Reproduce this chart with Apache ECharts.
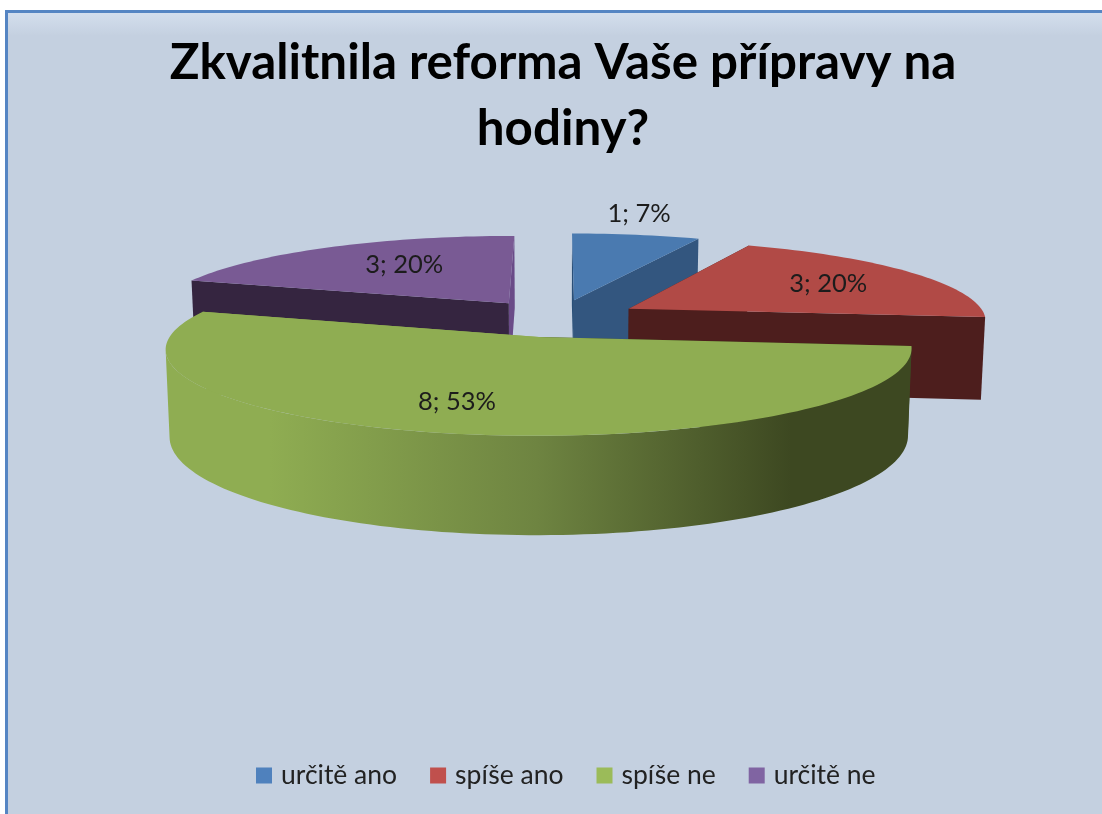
<!DOCTYPE html>
<html>
<head>
<meta charset="utf-8">
<style>html,body{margin:0;padding:0;background:#fff}#c{width:1102px;height:814px}</style>
<script src="https://cdn.jsdelivr.net/npm/echarts@6/dist/echarts.min.js"></script>
</head>
<body>
<div id="c"></div>
<script>
const titleText = 'Zkvalitnila reforma Vaše přípravy na\nhodiny?';
const categories = ['určitě ano', 'spíše ano', 'spíše ne', 'určitě ne'];
const values = [1, 3, 8, 3];

// styles
const legendColors = ['#4F81BD', '#C0504D', '#9BBB59', '#8064A2'];
const topColors = ['#4A7AB0', '#B14A46', '#8FAD52', '#795A94'];
const startFace = ['#2A4F78', '#4D1E1D', '#3D4821', '#352540'];
const endFace = ['#33567F', '#4D1E1D', '#8FAD52', '#6A4B88'];
const labelOffset = [[0.229, -1.349], [0.60, -0.335], [-0.196, 0.691], [-0.33, -0.537]];

// 3D projection parameters of the pie
const cx0 = 557, cy0 = 318, Rx = 358, Ry = 80, persp = 0.134, H = 83, explode = 0.235, bottomScale = 0.99;
const total = values.reduce((a, b) => a + b, 0);
const rad = d => d * Math.PI / 180;

function project(u, v, down) {
  const f = 1 / (1 - persp * v);
  let x = cx0 + Rx * u * f;
  let y = cy0 + Ry * v * f;
  if (down) { x = cx0 + (x - cx0) * bottomScale; y += H * f; }
  return [x, y];
}

function sliceAngles(idx) {
  let a = 0;
  for (let i = 0; i < idx; i++) a += values[i] / total * 360;
  return [a, a + values[idx] / total * 360];
}

function makeRender(idx) {
  return function (params, api) {
    const val = api.value(0);
    const [a0, a1] = sliceAngles(idx);
    const mid = rad((a0 + a1) / 2);
    const cu = explode * Math.sin(mid), cv = -explode * Math.cos(mid);
    const rim = (deg, down) => project(cu + Math.sin(rad(deg)), cv - Math.cos(rad(deg)), down);
    const apex = down => project(cu, cv, down);
    const arc = (from, to, down) => {
      const n = Math.max(2, Math.ceil(Math.abs(to - from) / 1.5));
      const pts = [];
      for (let i = 0; i <= n; i++) pts.push(rim(from + (to - from) * i / n, down));
      return pts;
    };
    const children = [];
    const poly = (pts, fill) => children.push({
      type: 'polygon', shape: { points: pts },
      style: { fill: fill, stroke: null }
    });

    // cut faces, farther one first
    const face = deg => [apex(false), rim(deg, false), rim(deg, true), apex(true)];
    const faces = [[a0, startFace[idx]], [a1, endFace[idx]]]
      .sort((p, q) => Math.cos(rad(q[0])) - Math.cos(rad(p[0])));
    faces.forEach(p => poly(face(p[0]), p[1]));

    // outer wall: the part between the rim's right-most and left-most points
    let right = 90, left = 270;
    for (let d = 60; d <= 120; d += 0.5) if (rim(d, false)[0] > rim(right, false)[0]) right = d;
    for (let d = 240; d <= 300; d += 0.5) if (rim(d, false)[0] < rim(left, false)[0]) left = d;
    const wf = Math.max(a0, right), wt = Math.min(a1, left);
    if (wt > wf) {
      const wallFill = idx === 2 ? {
        type: 'linear', x: 165, y: 0, x2: 910, y2: 0, global: true,
        colorStops: [
          { offset: 0, color: '#8FAD52' }, { offset: 0.14, color: '#8FAD52' },
          { offset: 0.5, color: '#6E8441' }, { offset: 0.84, color: '#3D4821' },
          { offset: 1, color: '#3D4821' }
        ]
      } : startFace[idx];
      poly(arc(wf, wt, false).concat(arc(wt, wf, true)), wallFill);
    }

    // top surface
    poly([apex(false)].concat(arc(a0, a1, false)), topColors[idx]);

    // data label
    const lp = project(cu + labelOffset[idx][0], cv + labelOffset[idx][1], false);
    children.push({
      type: 'text', z2: 10,
      style: {
        x: lp[0], y: lp[1], text: val + '; ' + Math.round(val / total * 100) + '%',
        fill: '#1c1c1c', font: '25.5px Lato', align: 'center', verticalAlign: 'middle'
      }
    });
    return { type: 'group', children: children };
  };
}

const chart = echarts.init(document.getElementById('c'), null, { renderer: 'canvas', width: 1102, height: 814 });
chart.setOption({
  animation: false,
  backgroundColor: '#ffffff',
  graphic: [
    { type: 'rect', z: -20, silent: true, shape: { x: 5, y: 10, width: 1097, height: 804 }, style: { fill: '#5585C3' } },
    { type: 'rect', z: -19, silent: true, shape: { x: 8, y: 13, width: 1094, height: 801 },
      style: { fill: { type: 'linear', x: 0, y: 13, x2: 0, y2: 36, global: true,
        colorStops: [{ offset: 0, color: '#D3DEED' }, { offset: 1, color: '#C4D0E0' }] } } }
  ],
  title: {
    text: titleText, left: 558, top: 25, textAlign: 'center',
    textStyle: { fontFamily: 'Lato', fontSize: 49.3, fontWeight: 'bold', color: '#000', lineHeight: 66 }
  },
  legend: {
    data: categories, left: 251, top: 757, icon: 'rect',
    itemWidth: 16, itemHeight: 16, itemGap: 33,
    textStyle: { fontFamily: 'Lato', fontSize: 26.5, color: '#222', padding: [0, 0, 0, 4] }
  },
  series: [0, 1, 3, 2].map(i => ({
    type: 'custom', name: categories[i], coordinateSystem: 'none',
    itemStyle: { color: legendColors[i] },
    data: [[values[i]]],
    dimensions: ['value'],
    encode: { value: 0 },
    renderItem: makeRender(i),
    silent: true
  }))
});
</script>
</body>
</html>
